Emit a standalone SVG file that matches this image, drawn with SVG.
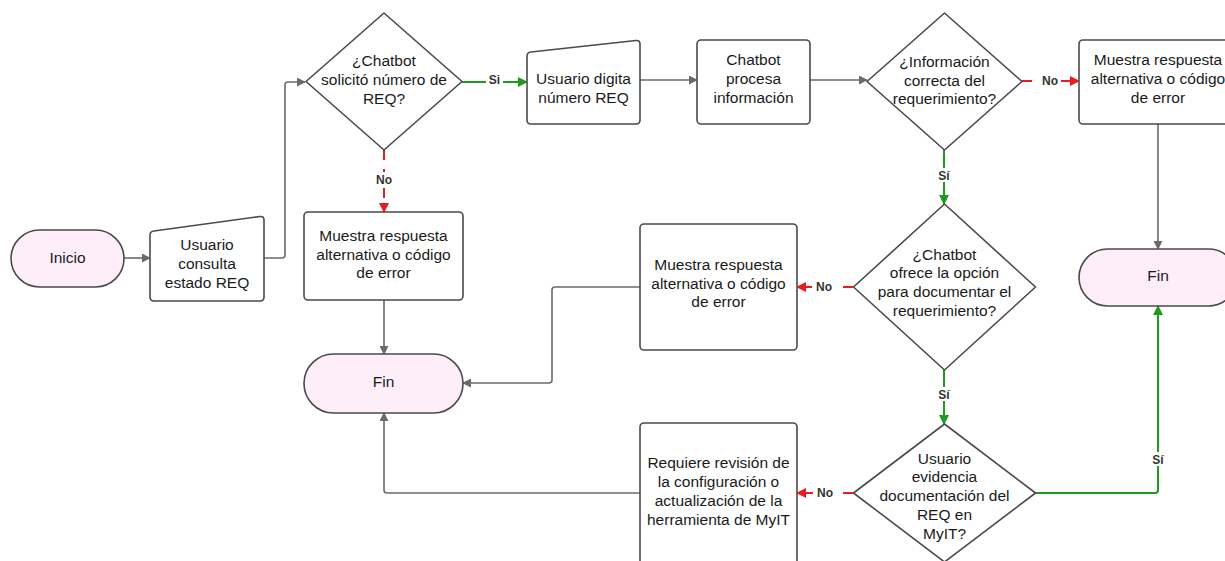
<svg xmlns="http://www.w3.org/2000/svg" width="1225" height="561" viewBox="0 0 1225 561">
<defs>
<style>
.n{fill:#fff;stroke:#4a4a4a;stroke-width:1.6;stroke-linejoin:round}
.t{fill:#fdeefa;stroke:#4a4a4a;stroke-width:1.6}
.tx{font-family:"Liberation Sans",Arial,sans-serif;font-size:15.5px;fill:#1a1a1a;text-anchor:middle}
.g{fill:none;stroke:#6a6a6a;stroke-width:1.6;stroke-linejoin:round}
.gr{fill:none;stroke:#1e9a1e;stroke-width:2}
.rd{fill:none;stroke:#e81c1c;stroke-width:2;stroke-dasharray:10 9}
.lb{font-family:"Liberation Sans",Arial,sans-serif;font-size:12px;font-weight:bold;fill:#333;text-anchor:middle}
.bg{fill:#fff}
</style>
<marker id="ag" viewBox="0 0 10 10" refX="9" refY="5" markerWidth="9" markerHeight="9" markerUnits="userSpaceOnUse" orient="auto"><path d="M0,0 L10,5 L0,10 z" fill="#6a6a6a"/></marker>
<marker id="agr" viewBox="0 0 10 10" refX="9" refY="5" markerWidth="10" markerHeight="10" markerUnits="userSpaceOnUse" orient="auto"><path d="M0,0 L10,5 L0,10 z" fill="#1e9a1e"/></marker>
<marker id="ard" viewBox="0 0 10 10" refX="9" refY="5" markerWidth="10" markerHeight="10" markerUnits="userSpaceOnUse" orient="auto"><path d="M0,0 L10,5 L0,10 z" fill="#e81c1c"/></marker>
</defs>
<rect width="1225" height="561" fill="#fff"/>

<g id="connectors">
<path class="g" d="M124,258 L150,258" marker-end="url(#ag)"/>
<path class="g" d="M264,258 L282,258 Q285,258 285,255 L285,85 Q285,82 288,82 L305,82" marker-end="url(#ag)"/>
<path class="gr" d="M462,82 L527,82" marker-end="url(#agr)"/>
<rect class="bg" x="486" y="73" width="17" height="14"/>
<text class="lb" x="494.5" y="84">Si</text>
<path class="g" d="M640,80 L697,80" marker-end="url(#ag)"/>
<path class="g" d="M810,80 L867,80" marker-end="url(#ag)"/>
<path class="rd" d="M1022,81 L1079,81" marker-end="url(#ard)"/>
<rect class="bg" x="1038" y="74" width="23" height="14"/>
<text class="lb" x="1050" y="85">No</text>
<path class="g" d="M1158,124 L1158,249" marker-end="url(#ag)"/>
<path class="rd" d="M384,150 L384,212" marker-end="url(#ard)"/>
<rect class="bg" x="372" y="172" width="24" height="14"/>
<text class="lb" x="384" y="183.5">No</text>
<path class="g" d="M384,300 L384,354" marker-end="url(#ag)"/>
<path class="gr" d="M944,150 L944,204" marker-end="url(#agr)"/>
<rect class="bg" x="936" y="168" width="16" height="14"/>
<text class="lb" x="944" y="179.5">Sí</text>
<path class="rd" d="M853,287 L797,287" marker-end="url(#ard)"/>
<rect class="bg" x="812" y="280" width="24" height="14"/>
<text class="lb" x="824" y="290.5">No</text>
<path class="g" d="M640,287 L555,287 Q552,287 552,290 L552,380 Q552,383 549,383 L463,383" marker-end="url(#ag)"/>
<path class="gr" d="M944,370 L944,424" marker-end="url(#agr)"/>
<rect class="bg" x="936" y="387" width="16" height="14"/>
<text class="lb" x="944" y="398.5">Sí</text>
<path class="gr" d="M1035,493 L1155,493 Q1158,493 1158,490 L1158,306" marker-end="url(#agr)"/>
<rect class="bg" x="1150" y="452" width="16" height="14"/>
<text class="lb" x="1158" y="463.5">Sí</text>
<path class="rd" d="M853,493 L797,493" marker-end="url(#ard)"/>
<rect class="bg" x="813" y="485" width="24" height="14"/>
<text class="lb" x="825" y="496.5">No</text>
<path class="g" d="M640,493 L387,493 Q384,493 384,490 L384,413" marker-end="url(#ag)"/>
</g>

<g id="inicio">
<rect class="t" x="11" y="230" width="113" height="57" rx="28.5"/>
<text class="tx" x="67.5" y="263">Inicio</text>
</g>
<g id="usuario-consulta">
<path class="n" d="M154,231 L260,216.5 Q264,216 264,220 L264,297 Q264,301 260,301 L154,301 Q150,301 150,297 L150,235 Q150,231.5 154,231 Z"/>
<text class="tx" x="207" y="250">Usuario</text>
<text class="tx" x="207" y="269">consulta</text>
<text class="tx" x="207" y="288">estado REQ</text>
</g>
<g id="d-solicito">
<path class="n" d="M384,13 L462,81.5 L384,150 L306,81.5 Z"/>
<text class="tx" x="384" y="66">¿Chatbot</text>
<text class="tx" x="384" y="85">solicitó número de</text>
<text class="tx" x="384" y="104">REQ?</text>
</g>
<g id="usuario-digita">
<path class="n" d="M531,52 L636,40.5 Q640,40 640,44 L640,120 Q640,124 636,124 L531,124 Q527,124 527,120 L527,56 Q527,52.5 531,52 Z"/>
<text class="tx" x="583.5" y="84">Usuario digita</text>
<text class="tx" x="583.5" y="103">número REQ</text>
</g>
<g id="chatbot-procesa">
<rect class="n" x="697" y="40" width="113" height="84" rx="4"/>
<text class="tx" x="753.5" y="65">Chatbot</text>
<text class="tx" x="753.5" y="84">procesa</text>
<text class="tx" x="753.5" y="103">información</text>
</g>
<g id="d-informacion">
<path class="n" d="M944.5,13 L1022,81.5 L944.5,150 L867,81.5 Z"/>
<text class="tx" x="944.5" y="67">¿Información</text>
<text class="tx" x="944.5" y="86">correcta del</text>
<text class="tx" x="944.5" y="104">requerimiento?</text>
</g>
<g id="muestra-1">
<rect class="n" x="1079" y="40" width="158" height="84" rx="4"/>
<text class="tx" x="1158" y="65">Muestra respuesta</text>
<text class="tx" x="1158" y="84">alternativa o código</text>
<text class="tx" x="1158" y="103">de error</text>
</g>
<g id="fin-right">
<rect class="t" x="1079" y="249" width="158" height="57" rx="28.5"/>
<text class="tx" x="1158" y="281">Fin</text>
</g>
<g id="muestra-2">
<rect class="n" x="304" y="212" width="159" height="88" rx="4"/>
<text class="tx" x="383.5" y="241">Muestra respuesta</text>
<text class="tx" x="383.5" y="260">alternativa o código</text>
<text class="tx" x="383.5" y="278">de error</text>
</g>
<g id="fin-left">
<rect class="t" x="304" y="354" width="159" height="59" rx="29.5"/>
<text class="tx" x="383.5" y="387">Fin</text>
</g>
<g id="d-ofrece">
<path class="n" d="M944.5,204 L1035.5,287 L944.5,370 L853.5,287 Z"/>
<text class="tx" x="944.5" y="260">¿Chatbot</text>
<text class="tx" x="944.5" y="278">ofrece la opción</text>
<text class="tx" x="944.5" y="297">para documentar el</text>
<text class="tx" x="944.5" y="316">requerimiento?</text>
</g>
<g id="muestra-3">
<rect class="n" x="640" y="224" width="157" height="126" rx="4"/>
<text class="tx" x="718.5" y="270">Muestra respuesta</text>
<text class="tx" x="718.5" y="289">alternativa o código</text>
<text class="tx" x="718.5" y="307">de error</text>
</g>
<g id="d-evidencia">
<path class="n" d="M944.5,424 L1035.5,493 L944.5,562 L853.5,493 Z"/>
<text class="tx" x="944.5" y="464">Usuario</text>
<text class="tx" x="944.5" y="482">evidencia</text>
<text class="tx" x="944.5" y="501">documentación del</text>
<text class="tx" x="944.5" y="520">REQ en</text>
<text class="tx" x="944.5" y="539">MyIT?</text>
</g>
<g id="requiere-revision">
<rect class="n" x="640" y="423" width="157" height="150" rx="4"/>
<text class="tx" x="718.5" y="468">Requiere revisión de</text>
<text class="tx" x="718.5" y="487">la configuración o</text>
<text class="tx" x="718.5" y="506">actualización de la</text>
<text class="tx" x="718.5" y="525">herramienta de MyIT</text>
</g>
</svg>
